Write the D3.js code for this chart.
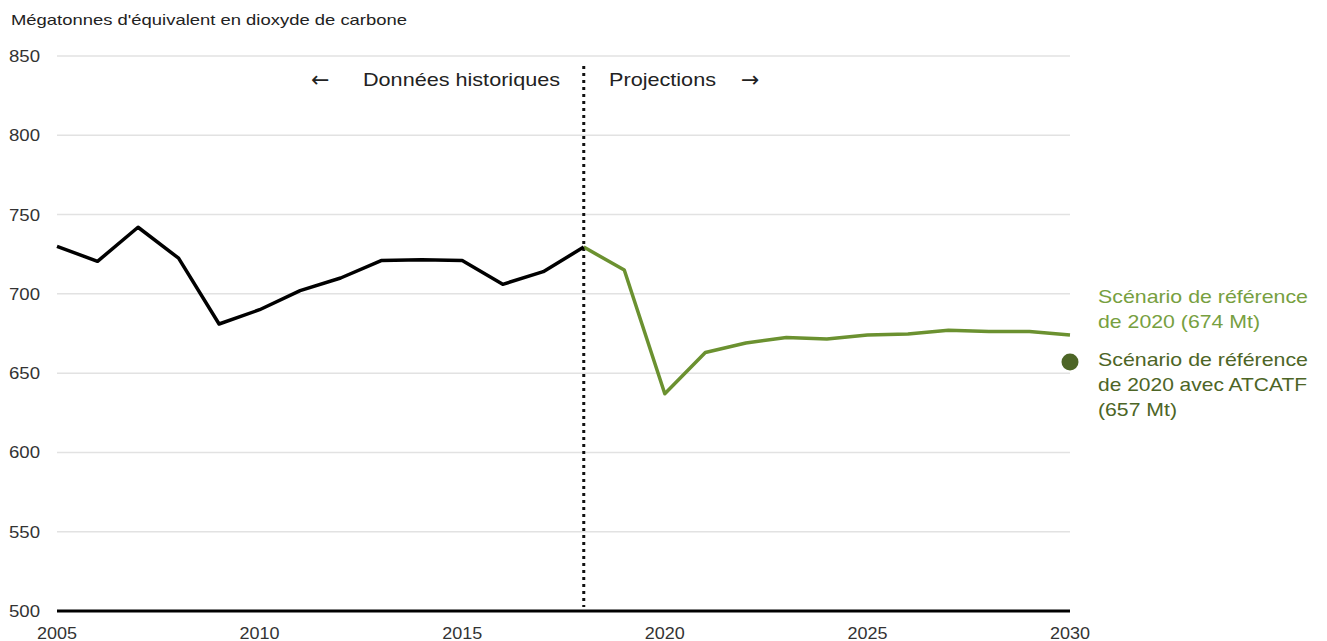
<!DOCTYPE html>
<html>
<head>
<meta charset="utf-8">
<script src="https://cdn.jsdelivr.net/npm/d3@7"></script>
<style>
  body { margin: 0; background: #fff; }
  text { font-family: "Liberation Sans", Arial, sans-serif; }
</style>
</head>
<body>
<div id="chart"></div>
<script>
// historical emissions (Mt CO2e)
const histYears = [2005, 2006, 2007, 2008, 2009, 2010, 2011, 2012, 2013, 2014, 2015, 2016, 2017, 2018];
const histValues = [730, 720.5, 742, 722.5, 681, 690, 702, 710, 721, 721.5, 721, 706, 714, 729.5];

// 2020 reference scenario projections
const projYears = [2018, 2019, 2020, 2021, 2022, 2023, 2024, 2025, 2026, 2027, 2028, 2029, 2030];
const projValues = [729.5, 715, 637, 663, 669, 672.5, 671.5, 674, 674.7, 677, 676.3, 676.3, 674];

const lulucfYear = 2030;
const lulucfValue = 657;

const yTicks = [500, 550, 600, 650, 700, 750, 800, 850];
const xTicks = [2005, 2010, 2015, 2020, 2025, 2030];
const splitYear = 2018;

const width = 1327, height = 641;
const green = "#6b9130", greenText = "#77a03f", darkGreen = "#4d6526";

const svg = d3.select("#chart").append("svg")
    .attr("width", width)
    .attr("height", height);

const x = d3.scaleLinear().domain([2005, 2030]).range([57, 1070]);
const y = d3.scaleLinear().domain([500, 850]).range([611, 56]);

svg.append("text")
    .attr("x", 11).attr("y", 25)
    .attr("font-size", 15).attr("fill", "#222")
    .attr("textLength", 396).attr("lengthAdjust", "spacingAndGlyphs")
    .text("Mégatonnes d'équivalent en dioxyde de carbone");

// gridlines
svg.append("g")
  .selectAll("line")
  .data(yTicks.filter(d => d > 500))
  .join("line")
    .attr("x1", 57).attr("x2", 1070)
    .attr("y1", d => y(d)).attr("y2", d => y(d))
    .attr("stroke", "#e2e2e2").attr("stroke-width", 1.5);

// y labels
svg.append("g")
  .selectAll("text")
  .data(yTicks)
  .join("text")
    .attr("x", 9).attr("y", d => y(d) + 6)
    .attr("font-size", 16).attr("fill", "#333")
    .attr("textLength", 31).attr("lengthAdjust", "spacingAndGlyphs")
    .text(d => d);

// x labels
svg.append("g")
  .selectAll("text")
  .data(xTicks)
  .join("text")
    .attr("x", d => x(d) - 20).attr("y", 639)
    .attr("font-size", 16).attr("fill", "#333")
    .attr("textLength", 40).attr("lengthAdjust", "spacingAndGlyphs")
    .text(d => d);

// dotted divider
svg.append("line")
    .attr("x1", x(splitYear)).attr("x2", x(splitYear))
    .attr("y1", 66).attr("y2", 607)
    .attr("stroke", "#111").attr("stroke-width", 3)
    .attr("stroke-dasharray", "3,4");

svg.append("text")
    .attr("x", 363).attr("y", 86)
    .attr("font-size", 19).attr("fill", "#222")
    .attr("textLength", 197).attr("lengthAdjust", "spacingAndGlyphs")
    .text("Données historiques");
svg.append("text")
    .attr("x", 609).attr("y", 86)
    .attr("font-size", 19).attr("fill", "#222")
    .attr("textLength", 107).attr("lengthAdjust", "spacingAndGlyphs")
    .text("Projections");
svg.append("text")
    .attr("x", 311).attr("y", 87)
    .style("font-family", "DejaVu Sans")
    .attr("font-size", 22).attr("fill", "#222")
    .text("←");
svg.append("text")
    .attr("x", 741).attr("y", 87)
    .style("font-family", "DejaVu Sans")
    .attr("font-size", 22).attr("fill", "#222")
    .text("→");

// bottom axis line
svg.append("line")
    .attr("x1", 57).attr("x2", 1070)
    .attr("y1", y(500)).attr("y2", y(500))
    .attr("stroke", "#000").attr("stroke-width", 3);

const line = d3.line().x(d => x(d[0])).y(d => y(d[1]));

svg.append("path")
    .datum(d3.zip(projYears, projValues))
    .attr("fill", "none").attr("stroke", green)
    .attr("stroke-width", 3.5).attr("stroke-linejoin", "round")
    .attr("d", line);

svg.append("path")
    .datum(d3.zip(histYears, histValues))
    .attr("fill", "none").attr("stroke", "#000")
    .attr("stroke-width", 3.5).attr("stroke-linejoin", "round")
    .attr("d", line);

svg.append("circle")
    .attr("cx", x(lulucfYear)).attr("cy", y(lulucfValue))
    .attr("r", 8.5).attr("fill", darkGreen);

const lab1 = [["Scénario de référence", 210], ["de 2020 (674 Mt)", 162]];
const lab2 = [["Scénario de référence", 210], ["de 2020 avec ATCATF", 209], ["(657 Mt)", 79]];
svg.append("g").selectAll("text").data(lab1).join("text")
    .attr("x", 1098).attr("y", (d, i) => 303 + i * 25)
    .attr("font-size", 19).attr("fill", greenText)
    .attr("textLength", d => d[1]).attr("lengthAdjust", "spacingAndGlyphs")
    .text(d => d[0]);
svg.append("g").selectAll("text").data(lab2).join("text")
    .attr("x", 1098).attr("y", (d, i) => 366 + i * 25)
    .attr("font-size", 19).attr("fill", darkGreen)
    .attr("textLength", d => d[1]).attr("lengthAdjust", "spacingAndGlyphs")
    .text(d => d[0]);
</script>
</body>
</html>
